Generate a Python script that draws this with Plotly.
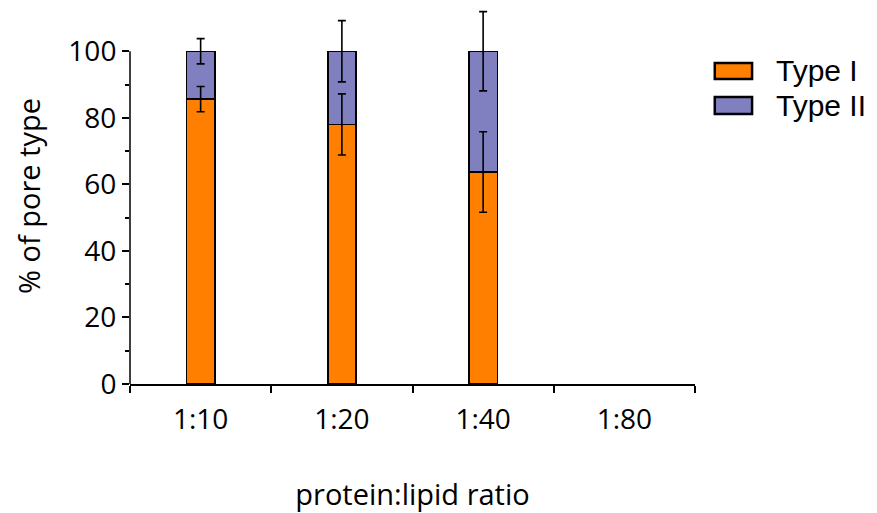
import plotly.graph_objects as go

categories = ["1:10", "1:20", "1:40", "1:80"]
type1 = [85.6, 78.0, 63.7, None]
type1_err = [3.8, 9.2, 12.1, None]
type2 = [14.4, 22.0, 36.3, None]
type2_err = [3.8, 9.2, 11.9, None]
y_ticks = [0, 20, 40, 60, 80, 100]
y_minor = [10, 30, 50, 70, 90]

ORANGE = "#FF8000"
PURPLE = "#8080C0"
AXFONT = "Open Sans"

stack_top = [(a or 0) + (b or 0) if a is not None else None for a, b in zip(type1, type2)]

fig = go.Figure()
fig.add_trace(go.Bar(x=categories, y=type1, name="Type I", marker=dict(color=ORANGE, line=dict(color="black", width=1.5)), width=0.2))
fig.add_trace(go.Bar(x=categories, y=type2, name="Type II", marker=dict(color=PURPLE, line=dict(color="black", width=1.5)), width=0.2))
# error bars drawn on top of the stacked bars
fig.add_trace(go.Scatter(x=categories, y=type1, mode="markers", marker=dict(size=0.1, color="rgba(0,0,0,0)"),
                         error_y=dict(type="data", array=type1_err, color="black", thickness=1.6, width=4),
                         showlegend=False, hoverinfo="skip", cliponaxis=False))
fig.add_trace(go.Scatter(x=categories, y=stack_top, mode="markers", marker=dict(size=0.1, color="rgba(0,0,0,0)"),
                         error_y=dict(type="data", array=type2_err, color="black", thickness=1.6, width=4),
                         showlegend=False, hoverinfo="skip", cliponaxis=False))

fig.update_layout(
    barmode="stack",
    width=861, height=505,
    margin=dict(l=122, r=174, t=0, b=129),
    plot_bgcolor="white", paper_bgcolor="white",
    showlegend=False,
    font=dict(family=AXFONT, size=28, color="black"),
    xaxis=dict(
        type="category", categoryorder="array", categoryarray=categories,
        range=[-0.5, 3.5], automargin=False,
        showline=True, linecolor="black", linewidth=1.5,
        ticks="outside", tickson="boundaries", ticklen=7, tickwidth=1.5, tickcolor="black",
        showgrid=False, zeroline=False,
        tickfont=dict(family=AXFONT, size=28),
        ticklabelstandoff=10,
        title=dict(text="protein:lipid ratio", font=dict(family=AXFONT, size=29), standoff=60),
    ),
    yaxis=dict(
        range=[0, 113], automargin=False,
        showline=False, showgrid=False, zeroline=False,
        tickmode="array", tickvals=y_ticks,
        ticks="outside", ticklen=7, tickwidth=1.5, tickcolor="black",
        minor=dict(tickmode="array", tickvals=y_minor, ticks="outside", ticklen=4, tickwidth=1.5, tickcolor="black", showgrid=False),
        tickfont=dict(family=AXFONT, size=28),
        title=dict(text="% of pore type", font=dict(family=AXFONT, size=29), standoff=19),
    ),
)

# y axis line only spanning 0..100
fig.add_shape(type="line", xref="paper", yref="y", x0=0, x1=0, y0=0, y1=100,
              line=dict(color="black", width=1.5))

# legend drawn as boxes + text
legend_items = [("Type I", ORANGE, 0.854, 0.811), ("Type II", PURPLE, 0.763, 0.718)]
for name, col, y1, y0 in legend_items:
    fig.add_shape(type="rect", xref="paper", yref="paper", x0=1.035, x1=1.101, y0=y0, y1=y1,
                  fillcolor=col, line=dict(color="black", width=2.5))
    fig.add_annotation(xref="paper", yref="paper", x=1.14, y=(y0 + y1) / 2, text=name, showarrow=False,
                       xanchor="left", yanchor="middle",
                       font=dict(family="Liberation Sans", size=30, color="black"))

fig.write_html("out.html")
